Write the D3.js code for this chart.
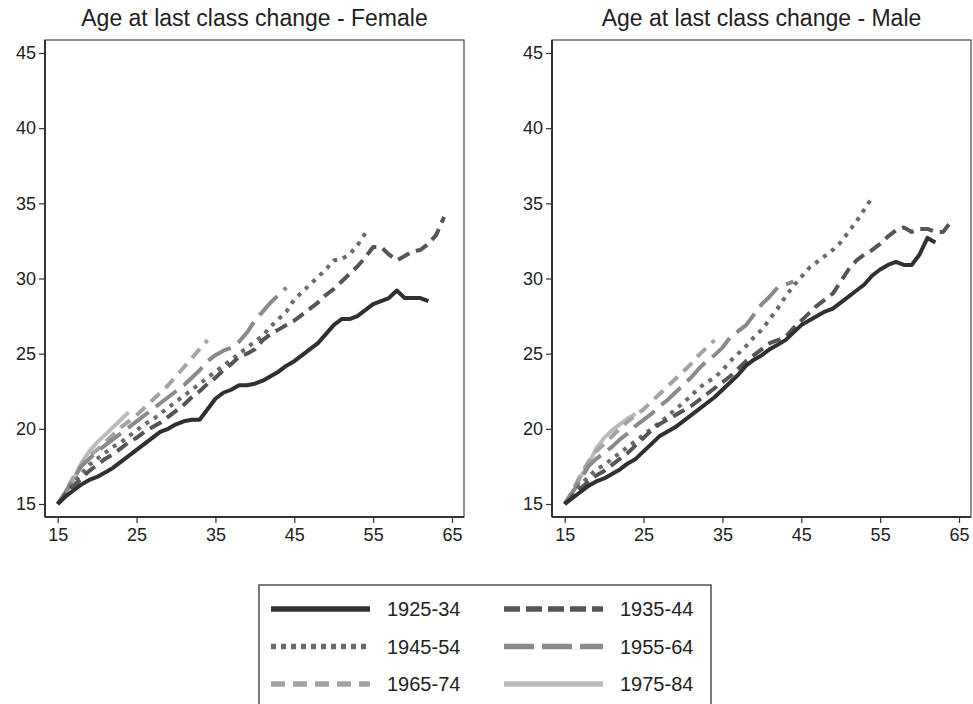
<!DOCTYPE html>
<html>
<head>
<meta charset="utf-8">
<script src="https://cdn.jsdelivr.net/npm/d3@7"></script>
<style>
  body { margin: 0; background: #fff; }
  svg { font-family: "Liberation Sans", Arial, sans-serif; }
</style>
</head>
<body>
<div id="canvas"></div>
<script>
// cohorts, all series start at age 15, one value per year of age
var cohorts = ['1925-34', '1935-44', '1945-54', '1955-64', '1965-74', '1975-84'];
var firstAge = 15;

var female1925 = [15.0,15.5,15.9,16.3,16.6,16.8,17.1,17.4,17.8,18.2,18.6,19.0,19.4,19.8,20.0,20.3,20.5,20.6,20.6,21.3,22.0,22.4,22.6,22.9,22.9,23.0,23.2,23.5,23.8,24.2,24.5,24.9,25.3,25.7,26.3,26.9,27.3,27.3,27.5,27.9,28.3,28.5,28.7,29.2,28.7,28.7,28.7,28.5];
var female1935 = [15.0,15.6,16.2,16.7,17.2,17.6,18.0,18.3,18.7,19.1,19.4,19.8,20.1,20.4,20.8,21.2,21.6,22.1,22.5,23.0,23.4,23.9,24.3,24.8,25.0,25.3,25.9,26.3,26.6,26.9,27.2,27.6,28.0,28.4,28.9,29.3,29.8,30.3,30.8,31.4,32.1,32.1,31.6,31.2,31.5,31.8,31.9,32.3,32.9,34.1];
var female1945 = [15.0,15.7,16.4,17.0,17.6,18.0,18.4,18.8,19.1,19.5,19.9,20.3,20.6,21.0,21.4,21.8,22.2,22.6,23.0,23.4,23.8,24.2,24.6,25.0,25.4,25.8,26.2,26.8,27.3,27.8,28.6,29.1,29.6,30.1,30.6,31.2,31.3,31.6,32.2,33.0];
var female1955 = [15.0,15.8,16.7,17.5,18.0,18.5,18.9,19.3,19.7,20.1,20.5,20.9,21.3,21.7,22.1,22.5,22.9,23.4,23.9,24.5,24.9,25.2,25.4,25.8,26.4,27.2,27.8,28.4,28.9,29.4];
var female1965 = [15.0,15.8,16.8,17.6,18.2,18.6,19.1,19.6,20.1,20.5,20.9,21.4,21.9,22.4,22.9,23.5,24.1,24.7,25.3,25.9];
var female1975 = [15.0,15.6,16.6,17.7,18.5,19.1,19.6,20.1,20.6,21.1];

var male1925 = [15.0,15.4,15.8,16.2,16.5,16.7,17.0,17.3,17.7,18.0,18.5,19.0,19.5,19.8,20.1,20.5,20.9,21.3,21.7,22.1,22.6,23.1,23.6,24.2,24.6,24.9,25.3,25.6,25.9,26.4,26.9,27.2,27.5,27.8,28.0,28.4,28.8,29.2,29.6,30.2,30.6,30.9,31.1,30.9,30.9,31.6,32.7,32.4];
var male1935 = [15.0,15.5,16.0,16.5,16.9,17.2,17.6,18.0,18.4,18.9,19.4,19.9,20.3,20.6,20.9,21.2,21.5,21.9,22.3,22.7,23.1,23.5,24.0,24.5,24.9,25.3,25.7,25.9,26.1,26.7,27.2,27.7,28.2,28.6,29.0,29.8,30.6,31.2,31.6,31.9,32.3,32.8,33.2,33.4,33.1,33.3,33.3,33.1,33.1,33.8];
var male1945 = [15.0,15.6,16.3,16.8,17.3,17.6,18.0,18.4,18.8,19.2,19.6,20.0,20.4,20.8,21.3,21.7,22.2,22.7,23.1,23.4,23.9,24.5,25.0,25.5,26.1,26.6,27.3,28.0,28.8,29.5,30.1,30.7,31.1,31.5,31.9,32.4,33.1,33.8,34.6,35.4];
var male1955 = [15.0,15.8,16.6,17.5,18.0,18.4,18.8,19.3,19.7,20.2,20.6,21.0,21.5,21.9,22.4,22.9,23.4,24.0,24.5,24.9,25.4,26.1,26.5,26.9,27.6,28.3,28.8,29.4,29.6,29.8];
var male1965 = [15.0,15.9,16.9,17.8,18.5,19.0,19.5,20.0,20.5,20.9,21.3,21.8,22.3,22.8,23.3,23.8,24.3,24.9,25.4,25.9];
var male1975 = [15.0,15.7,16.8,17.6,18.7,19.4,19.9,20.3,20.7,21.0];

var xTicks = [15, 25, 35, 45, 55, 65];
var yTicks = [15, 20, 25, 30, 35, 40, 45];

// look of each cohort: colour, dash in plot, dash in legend
var styles = [
  {color: '#303030', dash: null,   legDash: null},
  {color: '#555555', dash: '13,7', legDash: '16,6'},
  {color: '#6a6a6a', dash: '4,6',  legDash: '5,5'},
  {color: '#8a8a8a', dash: '26,9', legDash: '30,8'},
  {color: '#a3a3a3', dash: '12,8', legDash: '14,8'},
  {color: '#bcbcbc', dash: null,   legDash: null}
];

var panels = [
  {title: 'Age at last class change - Female', left: 45, right: 464,
   series: [female1925, female1935, female1945, female1955, female1965, female1975]},
  {title: 'Age at last class change - Male', left: 552, right: 971,
   series: [male1925, male1935, male1945, male1955, male1965, male1975]}
];

var W = 973, H = 704;
var svg = d3.select('#canvas').append('svg')
  .attr('width', W)
  .attr('height', H);

var plotTop = 40, plotBottom = 517;

var scaleY = d3.scaleLinear()
  .domain([15, 45])
  .range([504, 53]);

panels.forEach(function(p) {
  var scaleX = d3.scaleLinear()
    .domain([15, 65])
    .range([p.left + 12.7, p.left + 407]);

  var g = svg.append('g');

  // frame
  g.append('rect')
    .attr('x', p.left).attr('y', plotTop)
    .attr('width', p.right - p.left).attr('height', plotBottom - plotTop)
    .attr('fill', 'none')
    .attr('stroke', '#555')
    .attr('stroke-width', 1.3);

  g.append('text')
    .attr('x', (p.left + p.right) / 2)
    .attr('y', 26)
    .attr('text-anchor', 'middle')
    .attr('font-size', 23)
    .attr('fill', '#222')
    .text(p.title);

  var yAxis = d3.axisLeft(scaleY).tickValues(yTicks).tickSize(6).tickPadding(3);
  var xAxis = d3.axisBottom(scaleX).tickValues(xTicks).tickSize(6).tickPadding(5);

  var ya = g.append('g')
    .attr('transform', 'translate(' + p.left + ',0)')
    .call(yAxis);
  ya.select('.domain').attr('d', 'M0,' + plotTop + 'V' + plotBottom).attr('stroke', '#333').attr('stroke-width', 2);

  var xa = g.append('g')
    .attr('transform', 'translate(0,' + plotBottom + ')')
    .call(xAxis);
  xa.select('.domain').attr('d', 'M' + p.left + ',0H' + p.right).attr('stroke', '#333').attr('stroke-width', 2);

  [ya, xa].forEach(function(a) {
    a.attr('font-size', 18).attr('font-family', '"Liberation Sans", Arial, sans-serif');
    a.selectAll('.tick line').attr('stroke', '#333').attr('stroke-width', 1.2);
    a.selectAll('.tick text').attr('fill', '#222');
  });

  var line = d3.line()
    .x(function(d, i) { return scaleX(firstAge + i); })
    .y(function(d) { return scaleY(d); });

  // lightest drawn first so the older cohorts sit on top
  for (var k = p.series.length - 1; k >= 0; k--) {
    g.append('path')
      .datum(p.series[k])
      .attr('d', line)
      .attr('fill', 'none')
      .attr('stroke', styles[k].color)
      .attr('stroke-width', 4)
      .attr('stroke-linejoin', 'round')
      .attr('stroke-dasharray', styles[k].dash);
  }
});

// legend
var leg = svg.append('g');
leg.append('rect')
  .attr('x', 259).attr('y', 585)
  .attr('width', 452).attr('height', 140)
  .attr('fill', '#fff')
  .attr('stroke', '#333')
  .attr('stroke-width', 1.3);

cohorts.forEach(function(c, i) {
  var col = i % 2, row = Math.floor(i / 2);
  var lx = 271 + col * 233, ly = 609 + row * 37.5;
  leg.append('line')
    .attr('x1', lx).attr('x2', lx + 99)
    .attr('y1', ly).attr('y2', ly)
    .attr('stroke', styles[i].color)
    .attr('stroke-width', 5.5)
    .attr('stroke-dasharray', styles[i].legDash);
  leg.append('text')
    .attr('x', lx + 116).attr('y', ly + 7)
    .attr('font-size', 20)
    .attr('fill', '#222')
    .text(c);
});
</script>
</body>
</html>
